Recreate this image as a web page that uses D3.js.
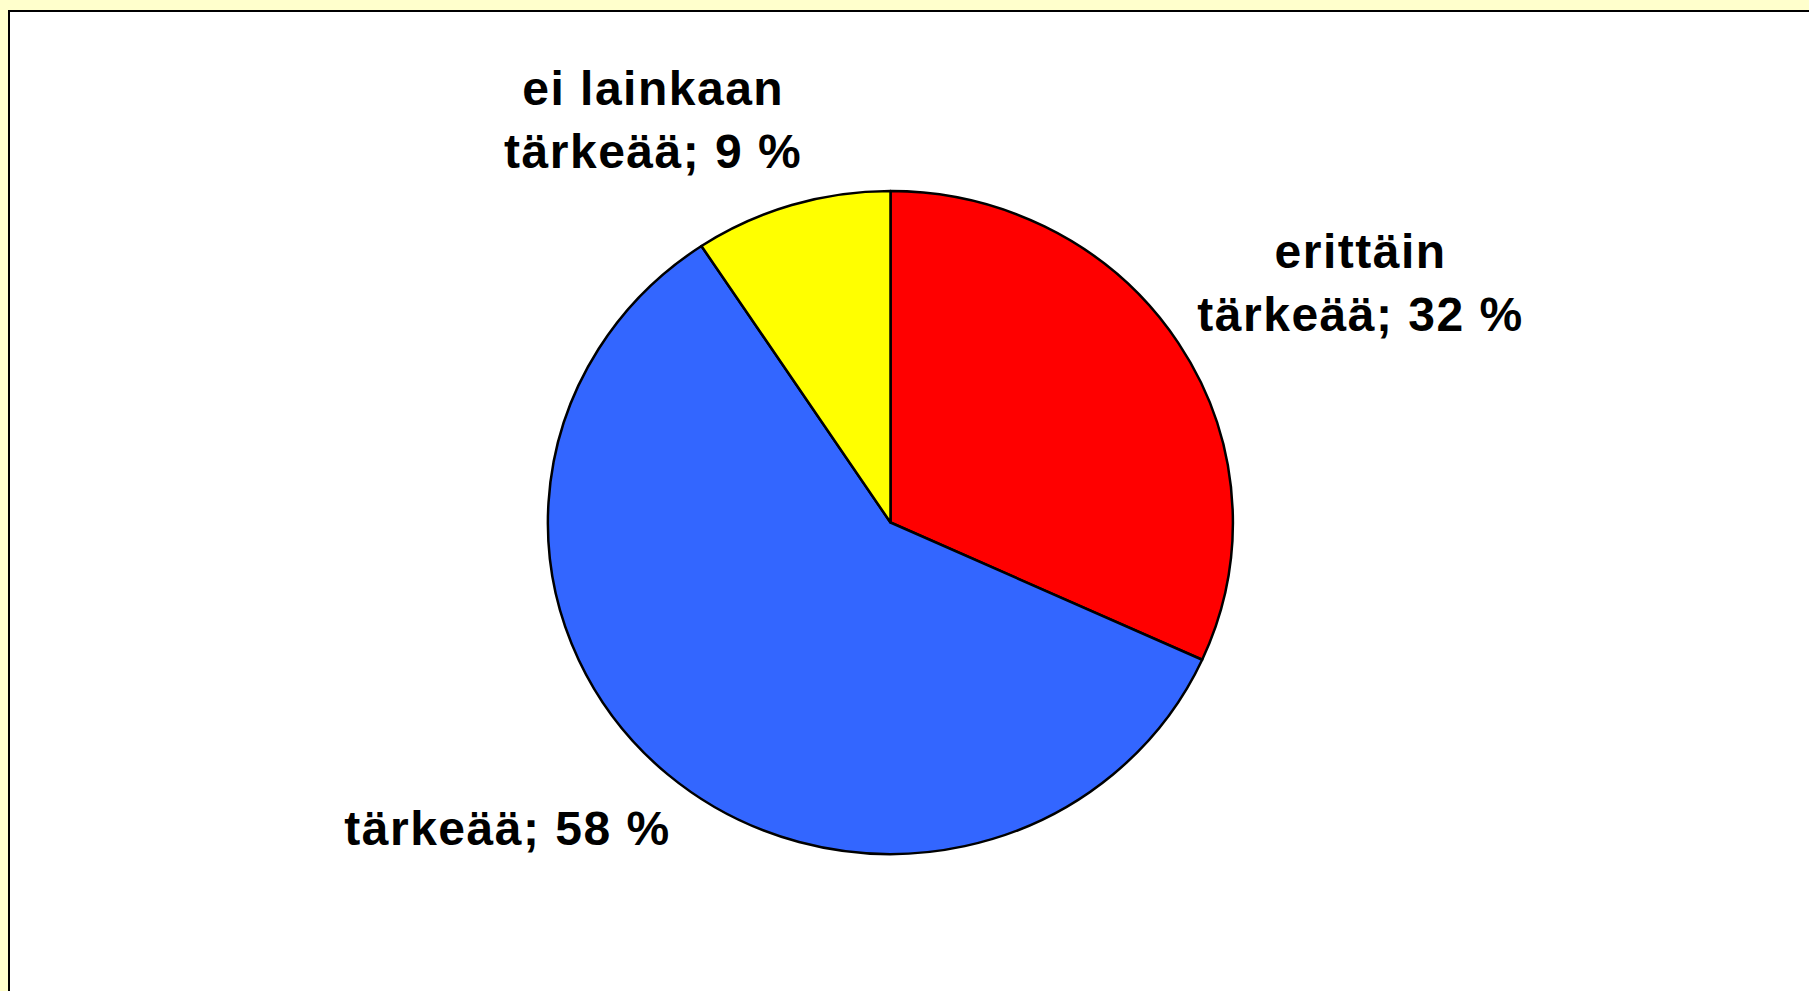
<!DOCTYPE html>
<meta charset="utf-8">
<head>
<title>Pie</title>
<script src="https://cdn.jsdelivr.net/npm/d3@7/dist/d3.min.js"></script>
</head>
<style>
html, body {
  margin: 0;
  overflow: hidden;
  background: #ffffcc;
}
text {
  font-family: "Liberation Sans", Arial, sans-serif;
  font-weight: bold;
  font-size: 48px;
  letter-spacing: 1.5px;
  fill: #000;
}
</style>
<body>
<script>

// data (clockwise from 12 o'clock)
var categories = ["erittäin tärkeää", "tärkeää", "ei lainkaan tärkeää"];
var shares = [31.8, 58.9, 9.3];            // slice size, as drawn
var labelPct = [32, 58, 9];                  // value printed on the label
var labelLines = [["erittäin", "tärkeää; 32 %"], ["tärkeää; 58 %"], ["ei lainkaan", "tärkeää; 9 %"]];
var colors = ["#ff0000", "#3366ff", "#ffff00"];

// layout
var width = 1809, height = 991;
var cx = 890.5, cy = 522.5, rx = 342.5, ry = 331.5;
var labelNudge = [[110, -16], [-105, -10], [-114, -6]];
var lineH = 63;

var svg = d3.select("body").append("svg")
    .attr("width", width)
    .attr("height", height);

// white panel with the dark frame line
svg.append("rect")
    .attr("x", 9).attr("y", 11)
    .attr("width", width).attr("height", height)
    .attr("fill", "#fff")
    .attr("stroke", "#000")
    .attr("stroke-width", 2);

var pie = d3.pie().sort(null).value(function (d) { return d; });
var arcs = pie(shares);
var arc = d3.arc().innerRadius(0).outerRadius(1);

// unit pie, stretched to the slightly wide ellipse of the original
var g = svg.append("g")
    .attr("transform", "translate(" + cx + "," + cy + ") scale(" + rx + "," + ry + ")");

g.selectAll("path")
    .data(arcs)
    .enter().append("path")
    .attr("d", arc)
    .attr("fill", function (d, i) { return colors[i]; })
    .attr("stroke", "#000")
    .attr("stroke-width", 2.5)
    .attr("stroke-linejoin", "round")
    .attr("vector-effect", "non-scaling-stroke");

// labels: start at 1.25x radius on the slice's middle angle, then nudge
var lab = svg.append("g");
arcs.forEach(function (d, i) {
    var mid = (d.startAngle + d.endAngle) / 2;
    var x = cx + rx * 1.25 * Math.sin(mid) + labelNudge[i][0];
    var y = cy - ry * 1.25 * Math.cos(mid) + labelNudge[i][1];
    var lines = labelLines[i];
    var first = y - (lines.length - 1) * lineH / 2 + 17;
    var t = lab.append("text").attr("text-anchor", "middle");
    lines.forEach(function (s, j) {
        t.append("tspan")
            .attr("x", x)
            .attr("y", first + j * lineH)
            .text(s);
    });
});

</script>
</body>
